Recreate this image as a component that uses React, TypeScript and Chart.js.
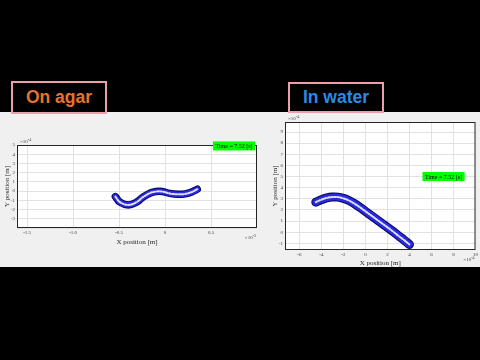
import { useEffect, useRef } from "react";
import { Chart, registerables } from "chart.js";

Chart.register(...registerables);

// ---- data ----
// On agar: x in units of 1e-3 m, y in units of 1e-4 m
const AGAR_X = [-0.54, -0.49, -0.40, -0.31, -0.24, -0.16, -0.10, -0.03, 0.05, 0.14, 0.22, 0.29, 0.35];
const AGAR_Y = [-0.6, -1.2, -1.5, -1.2, -0.65, -0.2, -0.05, -0.05, -0.25, -0.35, -0.3, -0.1, 0.2];
const AGAR_X_TICKS = [-1.5, -1, -0.5, 0, 0.5];
const AGAR_Y_TICKS = [-4, -3, -2, -1, 0, 1, 2, 3, 4, 5];

// In water: x and y in units of 1e-4 m
const WATER_X = [-4.5, -4, -3.5, -3, -2.5, -2, -1.5, -1, -0.5, 0, 0.5, 1, 1.5, 2, 2.5, 3, 3.5, 4];
const WATER_Y = [2.7, 2.92, 3.08, 3.16, 3.15, 3.04, 2.85, 2.57, 2.24, 1.88, 1.52, 1.16, 0.8, 0.44, 0.07, -0.32, -0.7, -1.1];
const WATER_X_TICKS = [-6, -4, -2, 0, 2, 4, 6, 8, 10];
const WATER_Y_TICKS = [-1, 0, 1, 2, 3, 4, 5, 6, 7, 8, 9];

const TIME_LABEL = "Time = 7.52 [s]";
const X_TITLE = "X position [m]";
const Y_TITLE = "Y position [m]";

type PanelCfg = {
  xs: number[];
  ys: number[];
  xTicks: number[];
  yTicks: number[];
  xMin: number;
  xMax: number;
  yMin: number;
  yMax: number;
  xExp: string;
  yExp: string;
  timeAt: [number, number];
  hideYTick?: number;
  width: number;
  height: number;
  padTop: number;
  padRight: number;
  yAxisW: number;
  xAxisH: number;
  bandW: number;
  yTitlePad: number;
  xTitlePad: number;
};

function framePlugin(cfg: PanelCfg) {
  return {
    id: "frame",
    beforeDraw(chart: any) {
      const { ctx, chartArea: a } = chart;
      ctx.save();
      ctx.fillStyle = "#ffffff";
      ctx.fillRect(a.left, a.top, a.right - a.left, a.bottom - a.top);
      ctx.restore();
    },
    afterDraw(chart: any) {
      const { ctx, chartArea: a, scales } = chart;
      ctx.save();
      ctx.strokeStyle = "#262626";
      ctx.lineWidth = 1;
      ctx.strokeRect(a.left + 0.5, a.top + 0.5, a.right - a.left - 1, a.bottom - a.top - 1);

      const drawExp = (x: number, y: number, exp: string, align: "left" | "right") => {
        ctx.fillStyle = "#404040";
        ctx.textBaseline = "alphabetic";
        const base = "\u00d710";
        ctx.font = "4px 'Liberation Serif'";
        const ew = ctx.measureText(exp).width;
        ctx.font = "5px 'Liberation Serif'";
        const bw = ctx.measureText(base).width;
        const x0 = align === "left" ? x : x - bw - ew;
        ctx.textAlign = "left";
        ctx.fillText(base, x0, y);
        ctx.font = "4px 'Liberation Serif'";
        ctx.fillText(exp, x0 + bw, y - 2.5);
      };
      drawExp(a.left + 3, a.top - 2, cfg.yExp, "left");
      drawExp(a.right - 1, a.bottom + 11, cfg.xExp, "right");

      // time annotation anchored to data coordinates
      const cx = scales.x.getPixelForValue(cfg.timeAt[0]);
      const cy = scales.y.getPixelForValue(cfg.timeAt[1]);
      ctx.font = "6px 'Liberation Serif'";
      const tw = ctx.measureText(TIME_LABEL).width;
      const bw = tw + 5;
      const bh = 9;
      ctx.fillStyle = "#00ff00";
      ctx.fillRect(cx - bw / 2, cy - bh / 2, bw, bh);
      ctx.fillStyle = "#000000";
      ctx.textAlign = "center";
      ctx.textBaseline = "middle";
      ctx.fillText(TIME_LABEL, cx, cy + 0.5);
      ctx.restore();
    },
  };
}

function Panel({ cfg, style }: { cfg: PanelCfg; style: any }) {
  const ref = useRef<HTMLCanvasElement | null>(null);
  useEffect(() => {
    if (!ref.current) return;
    const pts = cfg.xs.map((x, i) => ({ x, y: cfg.ys[i] }));
    const line = (color: string, w: number, dash: number[] = []) => ({
      type: "line" as const,
      data: pts,
      borderColor: color,
      borderWidth: w,
      borderDash: dash,
      borderCapStyle: "round" as const,
      borderJoinStyle: "round" as const,
      pointRadius: 0,
      tension: 0.4,
      fill: false,
      showLine: true,
    });
    const tickFont = { family: "'Liberation Serif'", size: 5 };
    const titleFont = { family: "'Liberation Serif'", size: 7 };
    const chart = new Chart(ref.current, {
      type: "line",
      data: {
        datasets: [
          line("rgba(235,235,255,0.95)", 2, [1.6, 1.6]),
          line("#2a2ae0", cfg.bandW - 2.2),
          line("#0a0a66", cfg.bandW),
        ],
      },
      options: {
        responsive: false,
        animation: false,
        devicePixelRatio: 1,
        layout: { padding: { top: cfg.padTop, right: cfg.padRight, left: 0, bottom: 0 } },
        plugins: { legend: { display: false }, tooltip: { enabled: false } },
        scales: {
          x: {
            type: "linear",
            min: cfg.xMin,
            max: cfg.xMax,
            afterBuildTicks: (s: any) => {
              s.ticks = cfg.xTicks.map((v) => ({ value: v }));
            },
            afterFit: (s: any) => {
              s.height = cfg.xAxisH;
            },
            grid: { color: "#e2e2e2", drawTicks: false, lineWidth: 1 },
            border: { display: false },
            ticks: { font: tickFont, color: "#404040", padding: 2, maxRotation: 0, autoSkip: false },
            title: {
              display: true,
              text: X_TITLE,
              font: titleFont,
              color: "#262626",
              padding: { top: 0, bottom: cfg.xTitlePad },
            },
          },
          y: {
            type: "linear",
            min: cfg.yMin,
            max: cfg.yMax,
            afterBuildTicks: (s: any) => {
              s.ticks = cfg.yTicks.map((v) => ({ value: v }));
            },
            afterFit: (s: any) => {
              s.width = cfg.yAxisW;
            },
            grid: { color: "#e2e2e2", drawTicks: false, lineWidth: 1 },
            border: { display: false },
            ticks: {
              font: tickFont,
              color: "#404040",
              padding: 2,
              autoSkip: false,
              callback: (v: any) => (cfg.hideYTick !== undefined && v === cfg.hideYTick ? "" : String(v)),
            },
            title: {
              display: true,
              text: Y_TITLE,
              font: titleFont,
              color: "#262626",
              padding: { top: cfg.yTitlePad, bottom: 0 },
            },
          },
        },
      },
      plugins: [framePlugin(cfg)],
    } as any);
    return () => chart.destroy();
  }, [cfg]);
  return (
    <div style={{ position: "absolute", ...style }}>
      <canvas ref={ref} width={cfg.width} height={cfg.height} style={{ display: "block" }} />
    </div>
  );
}

const agarCfg: PanelCfg = {
  xs: AGAR_X,
  ys: AGAR_Y,
  xTicks: AGAR_X_TICKS,
  yTicks: AGAR_Y_TICKS,
  xMin: -1.61,
  xMax: 1.0,
  yMin: -4,
  yMax: 5,
  xExp: "-3",
  yExp: "-4",
  timeAt: [0.75, 4.9],
  hideYTick: -4,
  width: 262,
  height: 112,
  padTop: 7,
  padRight: 5,
  yAxisW: 17,
  xAxisH: 22,
  bandW: 7.5,
  yTitlePad: 3,
  xTitlePad: 4,
};

const waterCfg: PanelCfg = {
  xs: WATER_X,
  ys: WATER_Y,
  xTicks: WATER_X_TICKS,
  yTicks: WATER_Y_TICKS,
  xMin: -7.3,
  xMax: 10,
  yMin: -1.6,
  yMax: 9.9,
  xExp: "-4",
  yExp: "-4",
  timeAt: [7.1, 5.0],
  width: 215,
  height: 156,
  padTop: 8,
  padRight: 4,
  yAxisW: 20,
  xAxisH: 20,
  bandW: 9,
  yTitlePad: 6,
  xTitlePad: 3,
};

function Label({ text, color, style }: { text: string; color: string; style: any }) {
  return (
    <div
      style={{
        position: "absolute",
        boxSizing: "border-box",
        border: "2.5px solid #e9a0a8",
        background: "#000",
        color,
        fontFamily: "'Liberation Sans', Arial, sans-serif",
        fontWeight: "bold",
        fontSize: "17.5px",
        display: "flex",
        alignItems: "center",
        justifyContent: "center",
        ...style,
      }}
    >
      {text}
    </div>
  );
}

export default function App() {
  return (
    <div style={{ position: "absolute", left: 0, top: 0, width: 480, height: 360, background: "#000", overflow: "hidden" }}>
      <div style={{ position: "absolute", left: 0, top: 112, width: 480, height: 155, background: "#f0f0f0" }} />
      <Panel cfg={agarCfg} style={{ left: 0, top: 138 }} />
      <Panel cfg={waterCfg} style={{ left: 265, top: 114 }} />
      <Label text="On agar" color="#e8742c" style={{ left: 11, top: 81, width: 96, height: 33 }} />
      <Label text="In water" color="#2b8be2" style={{ left: 288, top: 82, width: 96, height: 31 }} />
    </div>
  );
}
